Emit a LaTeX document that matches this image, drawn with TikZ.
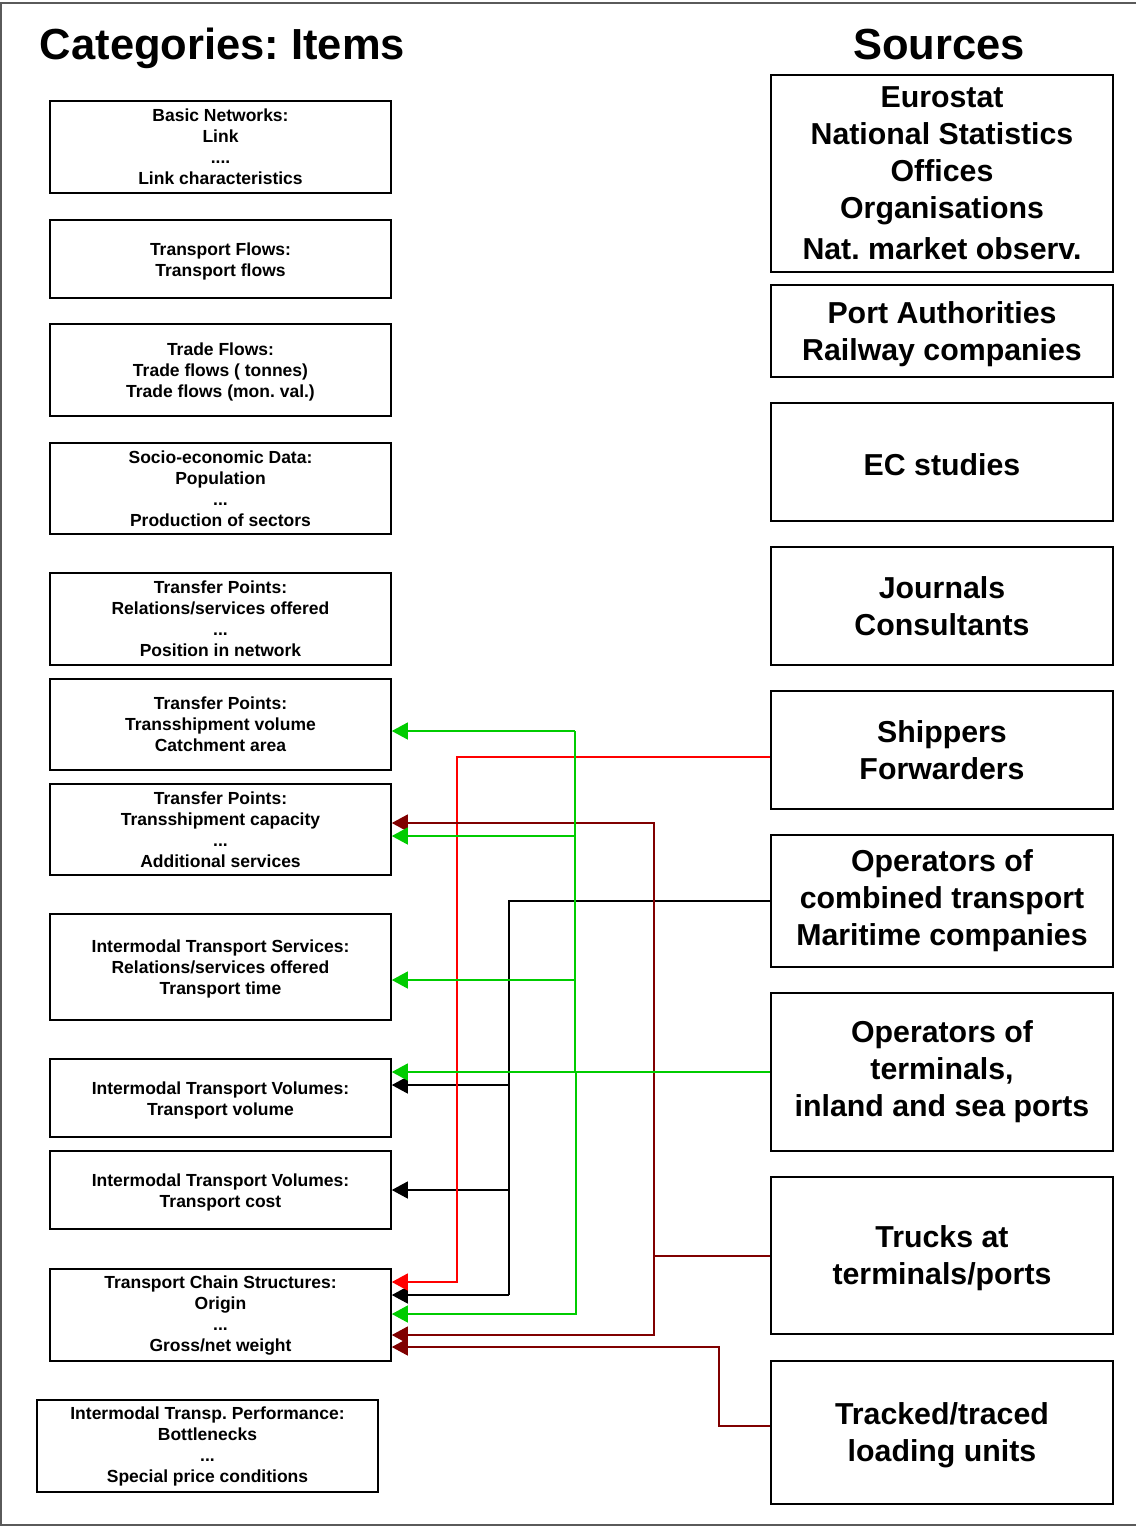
\documentclass[tikz,border=0pt]{standalone}
\usepackage{fontspec}
\setmainfont{Liberation Sans}
\usetikzlibrary{arrows.meta}
\definecolor{linkgreen}{RGB}{0,204,0}
\definecolor{linkred}{RGB}{255,0,0}
\definecolor{linkmaroon}{RGB}{128,0,0}
\definecolor{framegray}{RGB}{90,90,90}
\frenchspacing

\begin{document}
\begin{tikzpicture}[x=1pt,y=-1pt,
  catbox/.style={draw, line width=1.6pt, minimum width=341pt, inner sep=0pt,
    align=center, font=\bfseries\fontsize{17.5}{21}\selectfont},
  srcbox/.style={draw, line width=1.6pt, minimum width=342pt, inner sep=0pt,
    align=center, font=\bfseries\fontsize{30.3}{37}\selectfont},
  heading/.style={font=\bfseries\fontsize{43.5}{50}\selectfont, inner sep=0pt, anchor=base},
  trunk/.style={line width=1.3pt},
  feed/.style={line width=1.3pt, -{Triangle[length=16pt,width=17pt]}}
]
\useasboundingbox (0,0) rectangle (1136,1527);

% outer frame
\draw[framegray, line width=1.5pt] (1136,3) -- (1,3) -- (1,1525) -- (1136,1525);

% headings
\node[heading] (hcat) at (222.5,59) {Categories: Items};
\node[heading] (hsrc) at (939,59) {Sources};

% categories and items
\node[catbox, minimum height=92pt] (b1) at (220.5,147) {Basic Networks:\\Link\\....\\Link characteristics};
\node[catbox, minimum height=78pt] (b2) at (220.5,259) {\rule{0pt}{17pt}Transport Flows:\\Transport flows};
\node[catbox, minimum height=92pt] (b3) at (220.5,370) {\rule{0pt}{17pt}Trade Flows:\\Trade flows ( tonnes)\\Trade flows (mon. val.)};
\node[catbox, minimum height=91pt] (b4) at (220.5,488.5) {Socio-economic Data:\\Population\\...\\Production of sectors};
\node[catbox, minimum height=92pt] (b5) at (220.5,619) {Transfer Points:\\Relations/services offered\\...\\Position in network};
\node[catbox, minimum height=91pt] (b6) at (220.5,724.5) {Transfer Points:\\Transshipment volume\\Catchment area};
\node[catbox, minimum height=91pt] (b7) at (220.5,829.5) {Transfer Points:\\Transshipment capacity\\...\\Additional services};
\node[catbox, minimum height=106pt] (b8) at (220.5,967) {\rule{0pt}{17pt}Intermodal Transport Services:\\Relations/services offered\\Transport time};
\node[catbox, minimum height=78pt] (b9) at (220.5,1098) {\rule{0pt}{17pt}Intermodal Transport Volumes:\\Transport volume};
\node[catbox, minimum height=78pt] (b10) at (220.5,1190) {\rule{0pt}{17pt}Intermodal Transport Volumes:\\Transport cost};
\node[catbox, minimum height=92pt] (b11) at (220.5,1315) {Transport Chain Structures:\\Origin\\...\\Gross/net weight};
\node[catbox, minimum height=92pt] (b12) at (207.5,1446) {Intermodal Transp. Performance:\\Bottlenecks\\...\\Special price conditions};

% sources
\node[srcbox, minimum height=197pt] (eu) at (942,173.5) {Eurostat\\National Statistics\\Offices\\Organisations\\[4pt]Nat. market observ.};
\node[srcbox, minimum height=92pt] (pa) at (942,331) {\rule{0pt}{28pt}Port Authorities\\Railway companies};
\node[srcbox, minimum height=118pt] (ec) at (942,462) {\rule{0pt}{27pt}EC studies};
\node[srcbox, minimum height=118pt] (jc) at (942,606) {Journals\\Consultants};
\node[srcbox, minimum height=118pt] (sh) at (942,750) {Shippers\\Forwarders};
\node[srcbox, minimum height=132pt] (oc) at (942,901) {Operators of\\combined transport\\Maritime companies};
\node[srcbox, minimum height=158pt] (ot) at (942,1072) {Operators of\\terminals,\\inland and sea ports};
\node[srcbox, minimum height=157pt] (tr) at (942,1255.5) {\rule{0pt}{27pt}Trucks at\\terminals/ports};
\node[srcbox, minimum height=143pt] (tt) at (942,1432.5) {\rule{0pt}{27pt}Tracked/traced\\loading units};

% junction points of the feeder lines
\coordinate (gj) at (575,1072);
\coordinate (kj) at (509,901);
\coordinate (mj) at (654,1256);

% operators of combined transport (black)
\draw[trunk] (oc.west |- kj) -- (kj) -- (509,1295);
\draw[feed] (509,1085) -- (b9.east |- 0,1085);
\draw[feed] (509,1190) -- (b10.east |- 0,1190);
\draw[feed] (509,1295) -- (b11.east |- 0,1295);

% shippers and forwarders (red)
\draw[feed, linkred] (sh.west |- 0,757) -| (457,1282) -- (b11.east |- 0,1282);

% trucks at terminals/ports (dark red)
\draw[trunk, linkmaroon] (tr.west |- mj) -- (mj);
\draw[feed, linkmaroon] (mj) |- (b7.east |- 0,823);
\draw[feed, linkmaroon] (mj) |- (b11.east |- 0,1335);

% tracked/traced loading units (dark red)
\draw[feed, linkmaroon] (tt.west |- 0,1426) -| (719,1347) -- (b11.east |- 0,1347);

% operators of terminals and ports (green)
\draw[feed, linkgreen] (ot.west |- gj) -- (b9.east |- gj);
\draw[trunk, linkgreen] (gj) -- (575,731);
\draw[feed, linkgreen] (575,731) -- (b6.east |- 0,731);
\draw[feed, linkgreen] (575,836) -- (b7.east |- 0,836);
\draw[feed, linkgreen] (575,980) -- (b8.east |- 0,980);
\draw[feed, linkgreen] (576,1072) |- (b11.east |- 0,1314);

\end{tikzpicture}
\end{document}
